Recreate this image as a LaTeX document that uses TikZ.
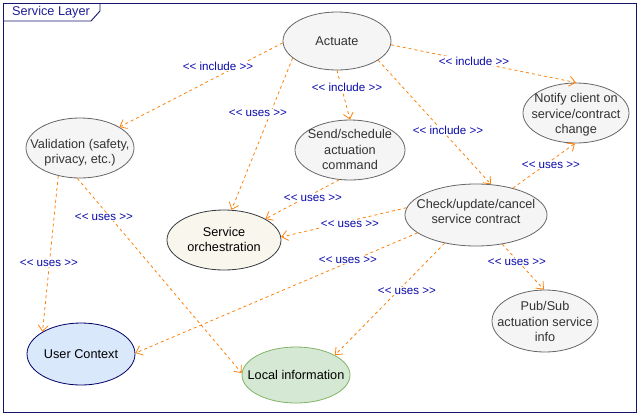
\documentclass[tikz,border=0pt]{standalone}
\usepackage{fontspec}
\setmainfont{Liberation Sans}
\usetikzlibrary{shapes.geometric,arrows.meta}
\definecolor{framec}{RGB}{20,20,110}
\definecolor{titlec}{RGB}{30,30,150}
\definecolor{lblc}{RGB}{10,10,170}
\definecolor{edgec}{RGB}{255,130,10}
\definecolor{grayfill}{RGB}{245,245,245}
\definecolor{graystroke}{RGB}{102,102,102}
\definecolor{txtc}{RGB}{51,51,51}
\definecolor{orchfill}{RGB}{249,247,237}
\definecolor{orchstroke}{RGB}{54,57,61}
\definecolor{userfill}{RGB}{218,232,252}
\definecolor{userstroke}{RGB}{0,0,102}
\definecolor{localfill}{RGB}{213,232,212}
\definecolor{localstroke}{RGB}{130,179,102}
\newcommand{\uctext}[2][-4pt]{\makebox[0pt][c]{\smash{\raisebox{#1}{\begin{tabular}{@{}c@{}}#2\end{tabular}}}}}
\newcommand{\incl}{<{}< include >{}>}
\newcommand{\uses}{<{}< uses >{}>}
\tikzset{
  uc/.style={ellipse, draw=graystroke, fill=grayfill, line width=0.8pt, inner sep=0pt,
    text=txtc, font=\fontsize{12.7}{15.5}\selectfont},
  rel/.style={draw=edgec, line width=0.8pt, dash pattern=on 3pt off 3pt,
    -{Straight Barb[length=6pt,width=10pt]}},
  lbl/.style={fill=white, inner sep=1pt, text=lblc, font=\fontsize{11.6}{13}\selectfont}
}
\begin{document}
\begin{tikzpicture}[x=1pt,y=-1pt]
\useasboundingbox (0,0) rectangle (638,416);
% frame
\draw[framec, line width=0.9pt] (3,3) rectangle (636,412);
\draw[framec, line width=0.9pt] (3,21) -- (91,21) -- (100,11) -- (100,3);
\node[text=titlec, font=\fontsize{12.7}{15}\selectfont, anchor=center] (title) at (51,12) {Service Layer};

% use cases
\node[uc, minimum width=108pt, minimum height=58pt] (act) at (337,41) {\uctext{Actuate}};
\node[uc, minimum width=108pt, minimum height=60pt] (val) at (80,148) {\uctext[-8pt]{Validation (safety,\\privacy, etc.)}};
\node[uc, minimum width=110pt, minimum height=60pt] (send) at (350,150) {\uctext{Send/schedule\\actuation\\command}};
\node[uc, minimum width=106pt, minimum height=60pt] (notify) at (576,113) {\uctext[-5pt]{Notify client on\\service/contract\\change}};
\node[uc, minimum width=142pt, minimum height=62pt] (check) at (476,215) {\uctext[-1pt]{Check/update/cancel\\service contract}};
\node[uc, draw=orchstroke, fill=orchfill, text=black, minimum width=114pt, minimum height=60pt] (serv) at (224,240) {\uctext{Service\\orchestration}};
\node[uc, draw=userstroke, fill=userfill, text=black, minimum width=108pt, minimum height=62pt] (user) at (81,354) {\uctext{User Context}};
\node[uc, draw=localstroke, fill=localfill, text=black, minimum width=108pt, minimum height=56pt] (local) at (296,375) {\uctext{Local information}};
\node[uc, minimum width=106pt, minimum height=62pt] (pub) at (545,321) {\uctext[-5pt]{Pub/Sub\\actuation service\\info}};

% relations
\draw[rel] (act.182) -- (val.28);
\draw[rel] (act.201) -- (serv.76);
\draw[rel] (act.270) -- (send.90);
\draw[rel] (act.356) -- (notify.90);
\draw[rel] (act.335) -- (check.64);
\draw[rel] (send.250) -- (serv.27);
\draw[rel] (check.36) -- (notify.268);
\draw[rel] (check.174) -- (serv.3);
\draw[rel] (check.197) -- (user.1);
\draw[rel] (check.222) -- (local.27);
\draw[rel] (check.312) -- (pub.92);
\draw[rel] (val.232) -- (user.150);
\draw[rel] (val.265) -- (local.178);

% labels
\node[lbl] (l1) at (218,66) {\incl};
\node[lbl] (l2) at (258,113) {\uses};
\node[lbl] (l3) at (347,87) {\incl};
\node[lbl] (l4) at (474,61) {\incl};
\node[lbl] (l5) at (448,130) {\incl};
\node[lbl] (l6) at (313,198) {\uses};
\node[lbl] (l7) at (551,165) {\uses};
\node[lbl] (l8) at (350,224) {\uses};
\node[lbl] (l9) at (348,260) {\uses};
\node[lbl] (l10) at (407,291) {\uses};
\node[lbl] (l11) at (517,262) {\uses};
\node[lbl] (l12) at (49,263) {\uses};
\node[lbl] (l13) at (104,217) {\uses};
\end{tikzpicture}
\end{document}
